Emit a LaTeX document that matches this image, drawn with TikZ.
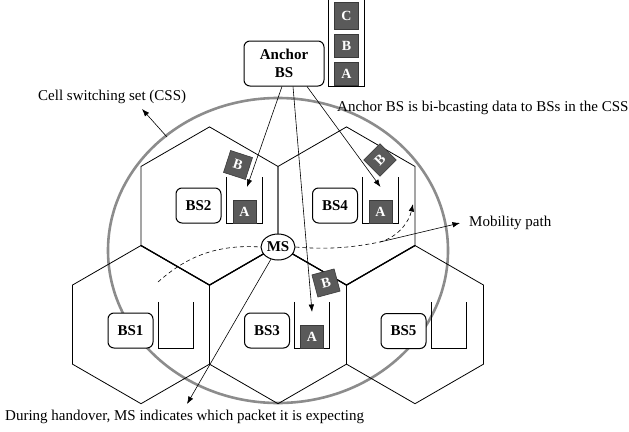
\documentclass[tikz,border=0pt]{standalone}
\usepackage{fontspec}
\setmainfont{Liberation Serif}
\usetikzlibrary{arrows.meta,calc,shapes.geometric}
\definecolor{pktgray}{HTML}{5A5A5A}
\definecolor{pktedge}{HTML}{3A3A3A}
\definecolor{cssgray}{HTML}{8C8C8C}

\begin{document}
\begin{tikzpicture}[x=1pt,y=-1pt,
  hexline/.style={line width=0.8pt},
  bsbox/.style={draw, line width=1pt, rounded corners=6pt, fill=white,
    minimum width=45pt, minimum height=35pt, inner sep=0pt,
    font=\fontsize{15}{17.5}\selectfont\bfseries, align=center},
  qbox/.style={minimum width=35pt, minimum height=46pt, inner sep=0pt},
  qline/.style={line width=1.1pt},
  pkt/.style={draw=pktedge, fill=pktgray, text=white, line width=0.6pt,
    minimum width=23pt, minimum height=23pt, inner sep=0pt,
    font=\fontsize{14}{14}\selectfont\bfseries},
  lbl/.style={inner sep=0pt, anchor=west, font=\fontsize{15}{17}\selectfont},
  arr/.style={line width=0.6pt, -{Latex[length=7.5pt,width=5.5pt]}},
  mobpath/.style={line width=0.6pt, dash pattern=on 4pt off 3pt},
]
\useasboundingbox (0,0) rectangle (629,431);

% cell switching set
\draw[cssgray, line width=2.6pt] (278,250.5) ellipse [x radius=170, y radius=152.5];

% hexagonal cells
\foreach \cx/\cy in {209.5/206, 346.5/206, 141/324.6, 278/324.6, 415/324.6}
  \draw[hexline] (\cx,\cy) +(30:79.1) -- +(90:79.1) -- +(150:79.1)
    -- +(210:79.1) -- +(270:79.1) -- +(330:79.1) -- cycle;
\draw[line width=1.3pt] (141,245.5) -- (209.5,285.1) -- (278,245.5)
  -- (346.5,285.1) -- (415,245.5);

% anchor base station and its buffer
\node[bsbox, minimum width=80pt, minimum height=45pt] (anc) at (284,63.5) {Anchor\\BS};
\node[qbox, minimum height=86pt] (stk) at (346.5,43) {};
\draw[qline] (stk.north west) -- (stk.south west) -- (stk.south east) -- (stk.north east);
\node[pkt, minimum width=24pt] (sa) at (346.5,74) {A};
\node[pkt, minimum width=24pt] (sb) at (346.5,46) {B};
\node[pkt, minimum width=24pt, minimum height=27pt] (sc) at (346.5,16) {C};

% base stations with buffers
\node[bsbox] (bs2) at (198.5,205.5) {BS2};
\node[qbox] (q2) at (244.5,200) {};
\node[bsbox] (bs4) at (335,205.5) {BS4};
\node[qbox] (q4) at (380.5,200) {};
\node[bsbox] (bs1) at (130.5,330.5) {BS1};
\node[qbox] (q1) at (176,325) {};
\node[bsbox] (bs3) at (267,330.5) {BS3};
\node[qbox] (q3) at (312,325) {};
\node[bsbox] (bs5) at (403.5,331) {BS5};
\node[qbox] (q5) at (449,325) {};
\foreach \q in {q1,q2,q3,q4,q5}
  \draw[qline] (\q.north west) -- (\q.south west) -- (\q.south east) -- (\q.north east);

% packets already buffered
\node[pkt] (a2) at (244.5,211.5) {A};
\node[pkt] (a4) at (380.5,211.5) {A};
\node[pkt] (a3) at (312,336.5) {A};

% packets in flight
\node[pkt, rotate=-18] (b2) at (238,165) {B};
\node[pkt, rotate=45] (b4) at (380,160) {B};
\node[pkt, rotate=15] (b3) at (326,283) {B};

% bi-casting from the anchor
\draw[arr] ($(anc.south)+(-2,0)$) -- ($(q2.center)+(2.5,-13)$);
\draw[arr] ($(anc.south)+(9,0)$) -- ($(q3.center)+(0,-13)$);
\draw[arr] ($(anc.south)+(23,0)$) -- ($(q4.center)+(0,-13)$);

% mobile station and its path
\node[draw, ellipse, fill=white, line width=1pt, minimum width=34pt,
  minimum height=26pt, inner sep=0pt, font=\fontsize{15}{17}\selectfont\bfseries] (ms) at (278,247) {MS};
\coordinate (mps) at (158,282);
\coordinate (mp) at (380,242);
\coordinate (mpe) at (413,204);
\draw[mobpath] (mps) .. controls (185,258) and (215,244) .. (ms.west);
\draw[mobpath, -{Latex[length=7.5pt,width=5.5pt]}] (ms.east) .. controls (330,250) and (355,247) .. (mp)
  .. controls (398,237) and (409,222) .. (mpe);

% annotations
\node[lbl] (cssl) at (38,97) {Cell switching set (CSS)};
\coordinate (cssp) at (167,137);
\coordinate (cssa) at (142,109);
\draw[arr] (cssp) -- (cssa);

\node[lbl] (bcl) at (337,108) {Anchor BS is bi-bcasting data to BSs in the CSS};

\node[lbl] (mpl) at (469,223) {Mobility path};
\coordinate (mpa) at (460,223);
\draw[arr] (mp) -- (mpa);

\node[lbl] (hol) at (5,417) {During handover, MS indicates which packet it is expecting};
\coordinate (hoa) at (187,404);
\draw[arr] (ms) -- (hoa);
\end{tikzpicture}
\end{document}
